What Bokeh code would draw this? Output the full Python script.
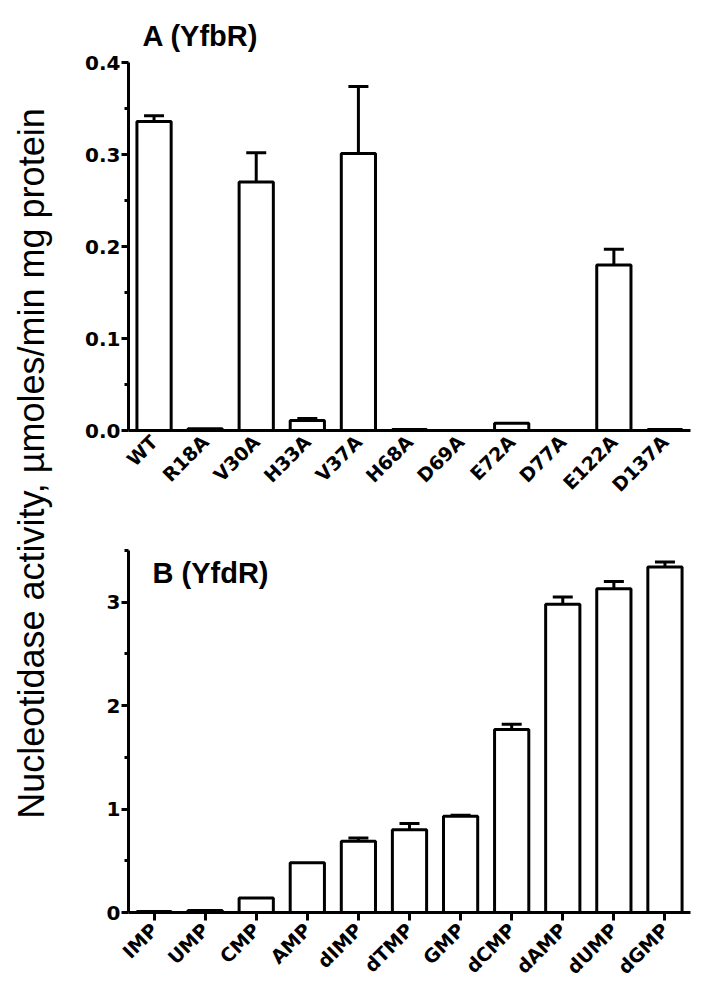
from math import pi
from bokeh.plotting import figure
from bokeh.layouts import row, column
from bokeh.models import (ColumnDataSource, Whisker, TeeHead, FixedTicker,
                          Range1d, FactorRange, Label, PrintfTickFormatter)
from bokeh.embed import file_html
from bokeh.resources import INLINE

# ---------------- data ----------------
mutants = ["WT", "R18A", "V30A", "H33A", "V37A", "H68A", "D69A", "E72A",
           "D77A", "E122A", "D137A"]
activity_a = [0.336, 0.002, 0.270, 0.011, 0.301, 0.001, 0.0, 0.008, 0.0, 0.180, 0.001]
error_a = [0.006, 0.0, 0.032, 0.002, 0.073, 0.0, 0.0, 0.0, 0.0, 0.017, 0.0]

nucleotides = ["IMP", "UMP", "CMP", "AMP", "dIMP", "dTMP", "GMP", "dCMP",
               "dAMP", "dUMP", "dGMP"]
activity_b = [0.01, 0.02, 0.14, 0.48, 0.69, 0.80, 0.93, 1.77, 2.98, 3.13, 3.34]
error_b = [0.0, 0.0, 0.0, 0.0, 0.03, 0.06, 0.01, 0.05, 0.07, 0.07, 0.05]

ticks_a = [0.0, 0.1, 0.2, 0.3, 0.4]
minor_a = [0.05, 0.15, 0.25, 0.35]
ticks_b = [0, 1, 2, 3]
minor_b = [0.5, 1.5, 2.5, 3.5]

title_a = "A (YfbR)"
title_b = "B (YfdR)"
ylabel = "Nucleotidase activity, \u00b5moles/min mg protein"

FONT = "Liberation Sans"
TICKFONT = "DejaVu Sans"
PAGE_H = 998


def panel(cats, vals, errs, ymax, ticks, minor, fmt, width, height, bl, br, bt, bb,
          xticks_visible, xstand):
    p = figure(x_range=FactorRange(*cats), y_range=Range1d(0, ymax),
               width=width, height=height, output_backend="svg",
               toolbar_location=None, min_border_left=bl, min_border_right=br,
               min_border_top=bt, min_border_bottom=bb)
    p.outline_line_color = None
    p.grid.visible = False
    src = ColumnDataSource(dict(x=cats, top=vals))
    p.vbar(x="x", top="top", width=0.67, source=src, fill_color="white",
           line_color="black", line_width=3)
    ex = [c for c, e in zip(cats, errs) if e > 0]
    lo = [v for v, e in zip(vals, errs) if e > 0]
    hi = [v + e for v, e in zip(vals, errs) if e > 0]
    wsrc = ColumnDataSource(dict(x=ex, lo=lo, hi=hi))
    w = Whisker(base="x", lower="lo", upper="hi", source=wsrc,
                line_width=3, line_color="black",
                upper_head=TeeHead(size=20, line_width=3, line_color="black"),
                lower_head=None)
    p.add_layout(w)

    ya = p.yaxis[0]
    ya.ticker = FixedTicker(ticks=ticks, minor_ticks=minor)
    if fmt:
        ya.formatter = PrintfTickFormatter(format=fmt)
    ya.axis_line_width = 3
    ya.major_tick_line_width = 3
    ya.minor_tick_line_width = 3
    ya.major_tick_out = 7
    ya.major_tick_in = 0
    ya.minor_tick_out = 4
    ya.minor_tick_in = 0
    ya.major_label_standoff = 1
    ya.major_label_text_font = TICKFONT
    ya.major_label_text_font_style = "bold"
    ya.major_label_text_font_size = "20px"
    ya.major_label_text_color = "black"

    xa = p.xaxis[0]
    xa.axis_line_width = 3
    xa.major_label_orientation = pi / 4
    xa.major_label_text_font = TICKFONT
    xa.major_label_text_font_style = "bold"
    xa.major_label_text_font_size = "19px"
    xa.major_label_text_color = "black"
    xa.major_label_standoff = xstand
    xa.minor_tick_line_color = None
    if xticks_visible:
        xa.major_tick_line_width = 3
        xa.major_tick_out = 8
        xa.major_tick_in = 0
    else:
        xa.major_tick_line_color = None
        xa.major_tick_out = 0
        xa.major_tick_in = 0
    return p


pa = panel(mutants, activity_a, error_a, 0.4, ticks_a, minor_a, "%.1f",
           640, 510, 60, 3, 62, 80, False, 8)
pa.title.text = title_a
pa.title.align = "left"
pa.title.offset = 14
pa.title.standoff = 21
pa.title.text_font = FONT
pa.title.text_font_style = "bold"
pa.title.text_font_size = "29px"
pa.title.text_color = "black"

pb = panel(nucleotides, activity_b, error_b, 3.5, ticks_b, minor_b, None,
           640, 488, 55, 18, 40, 86, True, 6)
pb.add_layout(Label(x=0.47, y=3.28, text=title_b, text_font=FONT,
                    text_font_style="bold", text_font_size="29px",
                    text_color="black", text_baseline="alphabetic"))

pl = figure(width=68, height=PAGE_H, x_range=Range1d(0, 68),
            y_range=Range1d(0, PAGE_H),
            output_backend="svg", toolbar_location=None,
            min_border=0, x_axis_location=None, y_axis_location=None)
pl.outline_line_color = None
pl.grid.visible = False
pl.add_layout(Label(x=31, y=PAGE_H - 463, text=ylabel, angle=pi / 2,
                    text_align="center", text_baseline="middle",
                    text_font=FONT, text_font_size="36px", text_color="black"))

layout = row(pl, column(pa, pb))
open("out.html", "w").write(file_html(layout, INLINE))
